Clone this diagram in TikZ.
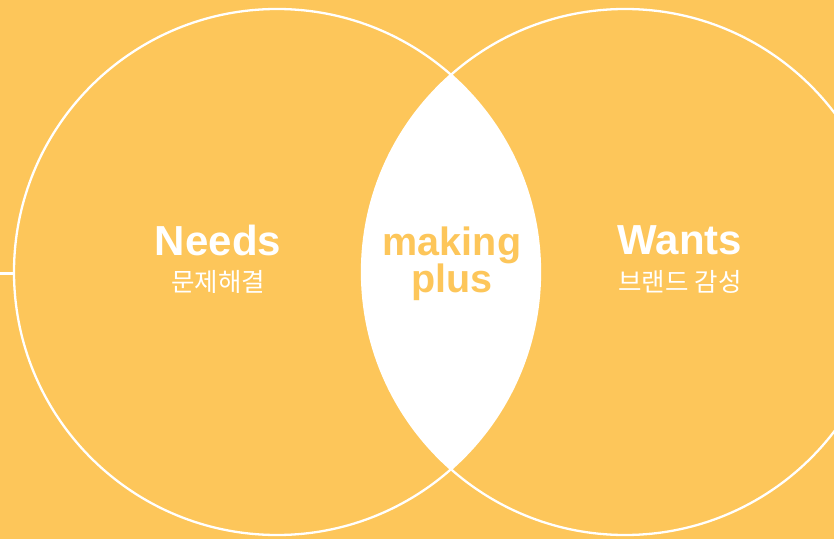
\documentclass[tikz,border=0pt]{standalone}
\usepackage{fontspec}
\setmainfont{Liberation Sans}
\newfontfamily\kr{Noto Sans CJK KR}
\definecolor{bgc}{RGB}{253,198,90}
\begin{document}
\begin{tikzpicture}[x=1pt,y=1pt,
  ring/.style={circle,draw=white,line width=2.3pt,minimum size=526pt,inner sep=0pt},
  title/.style={text=white,font=\fontsize{42}{42}\selectfont\bfseries,inner sep=0pt},
  sub/.style={text=white,font=\kr\fontsize{25.5}{25.5}\selectfont,inner sep=0pt},
  mid/.style={text=bgc,font=\fontsize{39.5}{37}\selectfont\bfseries,align=center,inner sep=0pt}]
\fill[bgc] (0,0) rectangle (834,539);
\useasboundingbox (0,0) rectangle (834,539);
\coordinate (lc) at (277,267);
\coordinate (rc) at (625,267);
\begin{scope}
  \clip (lc) circle (263);
  \fill[white] (rc) circle (263);
\end{scope}
\node[ring] (L) at (lc) {};
\node[ring] (R) at (rc) {};
\coordinate (edge) at (0,265.5);
\draw[white,line width=2.3pt] (edge) -- (edge -| L.west);
\node[title] (needs) at (218,299) {Needs};
\node[sub] (needsk) at (218,257) {문제해결};
\node[title] (wants) at (680,299) {Wants};
\node[sub] (wantsk) at (680,257) {브랜드 감성};
\node[mid] (mp) at (452,275) {making\\plus};
\end{tikzpicture}
\end{document}
